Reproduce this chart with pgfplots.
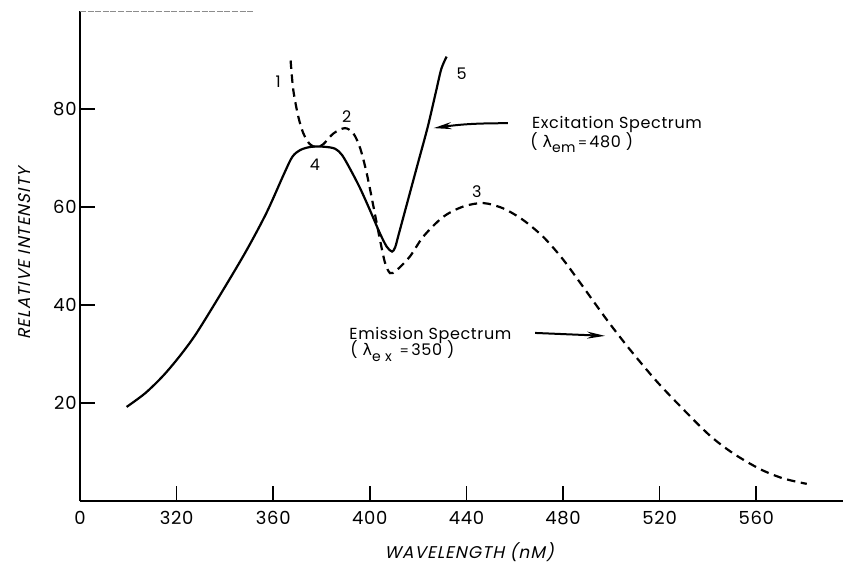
\documentclass[border=0pt]{standalone}
\usepackage{fontspec}
\setmainfont{Poppins}[LetterSpace=4]
\newfontfamily\slantfont{Poppins}[FakeSlant=0.22,LetterSpace=6]
\newfontfamily\grk{DejaVu Sans}
\usepackage{pgfplots}
\pgfplotsset{compat=1.18}
\usetikzlibrary{arrows.meta}
\begin{document}
\begin{tikzpicture}
\begin{axis}[
  scale only axis,
  width=381.5pt, height=245pt,
  xmin=280, xmax=595.9, ymin=0, ymax=100,
  axis x line*=bottom, axis y line*=left,
  axis line style={line width=0.9pt, -},
  tick align=inside,
  major tick length=7.5pt,
  every tick/.style={black, line width=0.8pt},
  xtick={280,320,360,400,440,480,520,560},
  xticklabels={0,320,360,400,440,480,520,560},
  ytick={20,40,60,80},
  /pgf/number format/assume math mode=true,
  tick label style={font=\fontsize{9}{10}\selectfont},
  yticklabel style={inner sep=0pt, xshift=-1.5pt},
  xticklabel style={inner sep=0pt, yshift=-5pt},
  xlabel={WAVELENGTH (nM)},
  ylabel={RELATIVE INTENSITY},
  every axis x label/.style={at={(axis description cs:0.510,0)}, anchor=center, yshift=-25.5pt, inner sep=0pt, font=\slantfont\fontsize{8.5}{10}\selectfont},
  every axis y label/.style={at={(axis description cs:-0.0721,0.505)}, anchor=center, rotate=90, inner sep=0pt, font=\slantfont\fontsize{8.5}{10}\selectfont},
  clip=false,
]
% Excitation spectrum (solid)
\addplot[black, line width=1.1pt, smooth, tension=0.5] coordinates {
(299.3,19.2) (307,22.0) (314.5,25.6) (321.5,29.7) (328.3,34.3) (339.3,43.1) (349,51.2) (357.3,58.9) (364.5,66.8)
(368,70.3) (371.5,71.7) (376,72.3) (381,72.3) (385.6,71.9) (388.5,70.6) (391.8,67.8)
(395.9,63.9) (400.1,59.3) (404.2,54.6) (407,51.9) (409.2,50.9) (410.5,51.8)
(412,54.5) (416,61.8) (420,69.1) (424,76.4) (427.5,83.8) (429.6,88.2) (431.8,90.7)
};
% Emission spectrum (dashed)
\addplot[black, line width=1.1pt, smooth, tension=0.5, dash pattern=on 4.2pt off 2.8pt] coordinates {
(367.2,89.9) (368.3,83.9) (370.4,78.4) (372.5,75) (375.2,72.8) (378,72.2) (380.7,72.8)
(384.9,75) (389.7,76.1) (393.2,75) (396,72) (398.7,66.9) (401.5,60.1) (404.2,53.3)
(406.3,48.6) (408.4,46.5) (411.1,47.1) (416.6,49.9) (422.2,54) (430.4,58) (438.7,60.1)
(447,60.8) (455.3,59.7) (463.6,57.3) (471.8,53.9) (479.5,49.6) (487,44.6) (498.1,37.0)
(507.7,30.9) (518.8,24.4) (529.8,18.7) (540.9,13.3) (550.5,9.7) (561.6,6.5)
(571.2,4.6) (580.9,3.5)
};
% faint partial top frame
\draw[black!45, line width=0.5pt, dash pattern=on 3pt off 0.8pt] (axis cs:280,100) -- (axis cs:352,100);
% arrows
\draw[line width=1pt, -{Stealth[length=9pt,width=3.5pt]}] (axis cs:457.2,77.1) to[out=180,in=8] (axis cs:426.4,76.1);
\draw[line width=1pt, -{Stealth[length=9pt,width=3.5pt]}] (axis cs:468.4,34.3) -- (axis cs:497.4,33.7);
% annotations
\tikzset{lab/.style={font=\fontsize{8}{9}\selectfont, inner sep=0pt}}
\node[lab, anchor=base west] at (axis cs:467,76.1) {Excitation  Spectrum};
\node[lab, anchor=base west] at (axis cs:466.3,72.2) {( {\grk λ}\raisebox{-0.6ex}{\fontsize{7}{8}\selectfont em}{\fontsize{6.5}{7}\selectfont\,=\,}480 )};
\node[lab, anchor=base west] at (axis cs:391.4,32.9) {Emission  Spectrum};
\node[lab, anchor=base west] at (axis cs:391.8,29.6) {( {\grk λ}\raisebox{-0.6ex}{\fontsize{7}{8}\selectfont e x}{\fontsize{6.5}{7}\selectfont\ \ =\,}350 )};
\node[lab] at (axis cs:362.1,85.6) {1};
\node[lab] at (axis cs:390.4,78.4) {2};
\node[lab] at (axis cs:444.3,63.1) {3};
\node[lab] at (axis cs:377.3,68.6) {4};
\node[lab] at (axis cs:438,87.3) {5};
\end{axis}
\pgfresetboundingbox
\path[use as bounding box] (current axis.south west) ++(-40pt,-31.5pt) rectangle ++(421.5pt,282pt);
\end{tikzpicture}
\end{document}
